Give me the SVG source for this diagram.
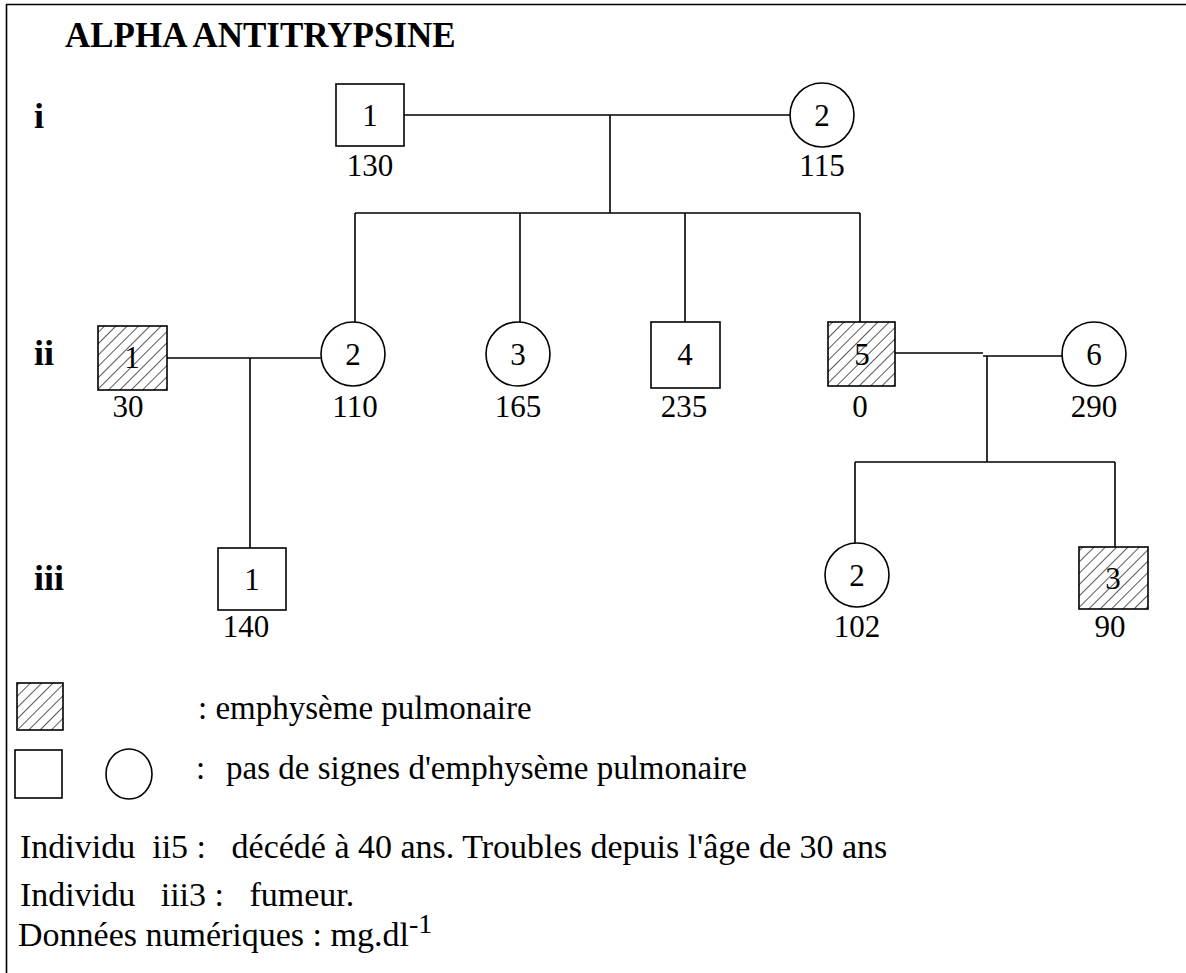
<svg xmlns="http://www.w3.org/2000/svg" width="1186" height="973" viewBox="0 0 1186 973">
<style>
text{font-family:"Liberation Serif","Times New Roman",serif;fill:#000}
.gen{font-size:36px;font-weight:bold}
.num{font-size:31px;text-anchor:middle}
.lbl{font-size:33px}
.note{font-size:34px}
.sym{fill:#fff;stroke:#000;stroke-width:1.6}
.aff{fill:url(#hatch);stroke:#000;stroke-width:1.6}
.ln{stroke:#000;stroke-width:1.6;fill:none}
</style>
<defs>
<pattern id="hatch" patternUnits="userSpaceOnUse" width="8" height="8" patternTransform="rotate(45)">
<rect width="8" height="8" fill="#fff"/>
<line x1="0" y1="0" x2="0" y2="8" stroke="#000" stroke-width="1.3"/>
</pattern>
</defs>
<rect width="1186" height="973" fill="#fff"/>
<g id="frame"><path class="ln" d="M6.5,973 V4.5 H1186" stroke-width="2.2"/></g>
<text x="65" y="47" font-size="35" font-weight="bold">ALPHA ANTITRYPSINE</text>
<text class="gen" x="34" y="128">i</text>
<text class="gen" x="34" y="365">ii</text>
<text class="gen" x="34" y="590">iii</text>
<g id="connectors">
<path class="ln" d="M404,115 H790 M610,115 V213 M355,213 H860 M355,213 V322 M520,213 V322 M685,213 V322 M860,213 V322"/>
<path class="ln" d="M167,358 H321 M250,358 V548"/>
<path class="ln" d="M895,353 H983 M983,356 H1062 M987,356 V462 M855,462 H1115 M855,462 V543 M1115,462 V547"/>
</g>
<g id="I1"><rect class="sym" x="336" y="84" width="68" height="62"/><text class="num" x="370" y="126">1</text><text class="num" x="370" y="176">130</text></g>
<g id="I2"><circle class="sym" cx="822" cy="115" r="32"/><text class="num" x="822" y="126">2</text><text class="num" x="822" y="176">115</text></g>
<g id="II1"><rect class="aff" x="98" y="326" width="69" height="64"/><text class="num" x="132" y="368">1</text><text class="num" x="128" y="417">30</text></g>
<g id="II2"><circle class="sym" cx="353" cy="354" r="32"/><text class="num" x="353" y="365">2</text><text class="num" x="355" y="417">110</text></g>
<g id="II3"><circle class="sym" cx="518" cy="354" r="32"/><text class="num" x="518" y="365">3</text><text class="num" x="518" y="417">165</text></g>
<g id="II4"><rect class="sym" x="651" y="322" width="69" height="66"/><text class="num" x="685" y="365">4</text><text class="num" x="684" y="417">235</text></g>
<g id="II5"><rect class="aff" x="828" y="322" width="67" height="64"/><text class="num" x="862" y="365">5</text><text class="num" x="860" y="417">0</text></g>
<g id="II6"><circle class="sym" cx="1094" cy="354" r="32"/><text class="num" x="1094" y="365">6</text><text class="num" x="1094" y="417">290</text></g>
<g id="III1"><rect class="sym" x="218" y="548" width="68" height="62"/><text class="num" x="252" y="590">1</text><text class="num" x="246" y="637">140</text></g>
<g id="III2"><circle class="sym" cx="857" cy="575" r="32"/><text class="num" x="857" y="586">2</text><text class="num" x="857" y="637">102</text></g>
<g id="III3"><rect class="aff" x="1079" y="547" width="69" height="62"/><text class="num" x="1113" y="589">3</text><text class="num" x="1110" y="637">90</text></g>
<g id="legend">
<rect class="aff" x="17" y="683" width="46" height="47" stroke-width="1.2"/>
<text class="lbl" x="198" y="719">: emphysème pulmonaire</text>
<rect class="sym" x="15" y="750" width="47" height="48" stroke-width="1.2"/>
<ellipse class="sym" cx="129" cy="774" rx="23" ry="25" stroke-width="1.2"/>
<text class="lbl" x="196" y="779">:</text>
<text class="lbl" x="226" y="779">pas de signes d'emphysème pulmonaire</text>
</g>
<g id="notes">
<text class="note" x="20" y="858" xml:space="preserve">Individu  ii5 :   décédé à 40 ans. Troubles depuis l'âge de 30 ans</text>
<text class="note" x="20" y="906" xml:space="preserve">Individu   iii3 :   fumeur.</text>
<text class="note" x="18" y="946">Données numériques : mg.dl<tspan font-size="28" dy="-13">-1</tspan></text>
</g>
</svg>
